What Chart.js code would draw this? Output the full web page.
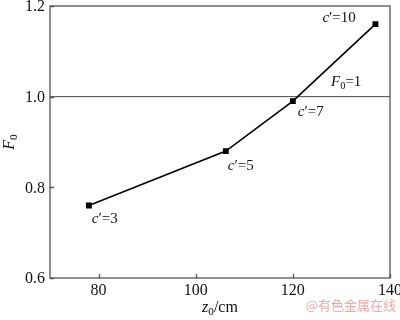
<!DOCTYPE html>
<html>
<head>
<meta charset="utf-8">
<script src="https://cdn.jsdelivr.net/npm/chart.js@4"></script>
<style>
  html, body { margin: 0; padding: 0; background: #fff; }
  #wrap { width: 400px; height: 320px; }
</style>
</head>
<body>
<div id="wrap"><canvas id="chart" width="400" height="320"></canvas></div>
<script>
// data
const zValues = [78, 106.2, 120, 137];
const fValues = [0.76, 0.88, 0.99, 1.16];
const cValues = [3, 5, 7, 10];
const refLevel = 1;
const xTicks = [80, 100, 120, 140];
const yTicks = [0.6, 0.8, 1.0, 1.2];

const serif = "'Liberation Serif', 'DejaVu Serif', serif";

// label offsets (px) from each point: [dx, dy]
const labelOffsets = [[3, 14], [2, 15], [5, 11], [-53, -6]];

function drawRich(ctx, parts, x, y, size) {
  let cx = x;
  parts.forEach((p) => {
    const fs = p.sub ? size * 0.7 : size;
    ctx.font = (p.italic ? "italic " : "") + fs + "px " + serif;
    ctx.fillText(p.t, cx, p.sub ? y + size * 0.28 : y);
    cx += ctx.measureText(p.t).width;
  });
  return cx - x;
}

function richWidth(ctx, parts, size) {
  let w = 0;
  parts.forEach((p) => {
    const fs = p.sub ? size * 0.7 : size;
    ctx.font = (p.italic ? "italic " : "") + fs + "px " + serif;
    w += ctx.measureText(p.t).width;
  });
  return w;
}

const decor = {
  id: "decor",
  afterDraw(chart) {
    const ctx = chart.ctx;
    const a = chart.chartArea;
    const xs = chart.scales.x;
    const ys = chart.scales.y;
    ctx.save();

    // frame
    ctx.strokeStyle = "#555";
    ctx.lineWidth = 1.3;
    ctx.strokeRect(a.left, a.top, a.right - a.left, a.bottom - a.top);

    // inner ticks
    ctx.beginPath();
    xTicks.forEach((v) => {
      const px = Math.round(xs.getPixelForValue(v)) + 0.5;
      ctx.moveTo(px, a.bottom);
      ctx.lineTo(px, a.bottom - 4);
    });
    yTicks.forEach((v) => {
      const py = Math.round(ys.getPixelForValue(v)) + 0.5;
      ctx.moveTo(a.left, py);
      ctx.lineTo(a.left + 4, py);
    });
    ctx.stroke();

    // tick labels
    ctx.fillStyle = "#111";
    ctx.font = "16px " + serif;
    ctx.textBaseline = "middle";
    ctx.textAlign = "center";
    xTicks.forEach((v) => {
      ctx.fillText(String(v), xs.getPixelForValue(v), a.bottom + 13);
    });
    ctx.textAlign = "right";
    yTicks.forEach((v) => {
      ctx.fillText(v.toFixed(1), a.left - 5, ys.getPixelForValue(v) + 1);
    });

    // point labels
    ctx.textAlign = "left";
    zValues.forEach((z, i) => {
      const px = xs.getPixelForValue(z) + labelOffsets[i][0];
      const py = ys.getPixelForValue(fValues[i]) + labelOffsets[i][1];
      drawRich(ctx, [
        { t: "c", italic: true },
        { t: "\u2032=" + cValues[i] }
      ], px, py, 15);
    });

    // reference line label
    drawRich(ctx, [
      { t: "F", italic: true },
      { t: "0", sub: true },
      { t: "=" + refLevel }
    ], a.right - 59, ys.getPixelForValue(refLevel) - 15, 15);

    // x title
    const xt = [{ t: "z", italic: true }, { t: "0", sub: true }, { t: "/cm" }];
    const w = richWidth(ctx, xt, 16);
    drawRich(ctx, xt, (a.left + a.right) / 2 - w / 2, 308, 16);

    // y title
    ctx.save();
    ctx.translate(10, (a.top + a.bottom) / 2);
    ctx.rotate(-Math.PI / 2);
    const yt = [{ t: "F", italic: true }, { t: "0", sub: true }];
    const wy = richWidth(ctx, yt, 16);
    drawRich(ctx, yt, -wy / 2, 0, 16);
    ctx.restore();

    // watermark
    ctx.fillStyle = "#f2a7a7";
    ctx.font = "13px 'Noto Sans CJK SC', sans-serif";
    ctx.textAlign = "right";
    ctx.fillText("@有色金属在线", 396, 305);

    ctx.restore();
  }
};

const ctx = document.getElementById("chart").getContext("2d");
new Chart(ctx, {
  type: "scatter",
  data: {
    datasets: [
      {
        data: zValues.map((z, i) => ({ x: z, y: fValues[i] })),
        showLine: true,
        borderColor: "#000",
        borderWidth: 1.6,
        pointStyle: "rect",
        pointRadius: 3,
        pointBackgroundColor: "#000",
        pointBorderColor: "#000",
        tension: 0
      },
      {
        data: [{ x: 70, y: refLevel }, { x: 140, y: refLevel }],
        showLine: true,
        borderColor: "#444",
        borderWidth: 1,
        pointRadius: 0
      }
    ]
  },
  options: {
    responsive: false,
    animation: false,
    events: [],
    layout: { padding: { top: 6, right: 10, left: 0, bottom: 0 } },
    plugins: { legend: { display: false }, tooltip: { enabled: false } },
    scales: {
      x: {
        type: "linear",
        min: 70,
        max: 140,
        afterBuildTicks: (s) => { s.ticks = xTicks.map((v) => ({ value: v })); },
        afterFit: (s) => { s.height = 42; },
        grid: { display: false },
        border: { display: false },
        ticks: { display: false }
      },
      y: {
        min: 0.6,
        max: 1.2,
        afterBuildTicks: (s) => { s.ticks = yTicks.map((v) => ({ value: v })); },
        afterFit: (s) => { s.width = 50; },
        grid: { display: false },
        border: { display: false },
        ticks: { display: false }
      }
    }
  },
  plugins: [decor]
});
</script>
</body>
</html>
